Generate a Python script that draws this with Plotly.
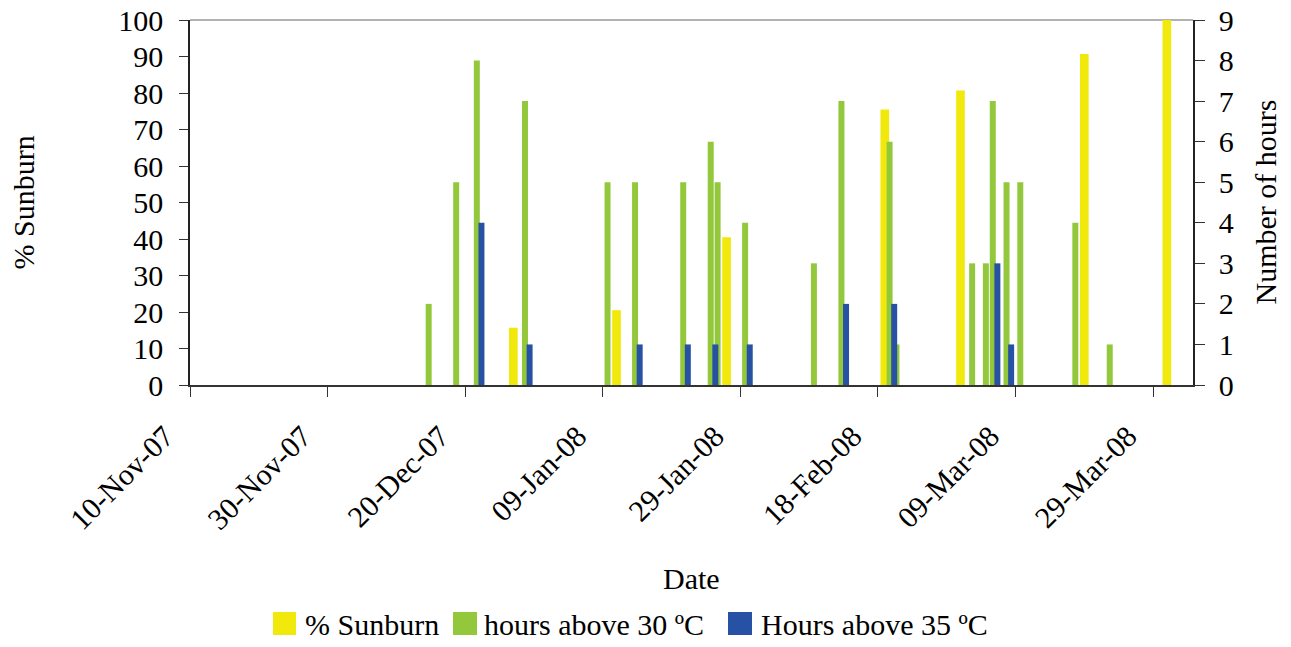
import plotly.graph_objects as go

# ---- data ----
sunburn_dates = ["2007-12-27", "2008-01-11", "2008-01-27", "2008-02-19",
                 "2008-03-01", "2008-03-19", "2008-03-31"]
sunburn_pct = [15.7, 20.5, 40.5, 75.5, 80.7, 90.7, 100.5]

h30_dates = ["2007-12-15", "2007-12-19", "2007-12-22", "2007-12-29",
             "2008-01-10", "2008-01-14", "2008-01-21", "2008-01-25",
             "2008-01-26", "2008-01-30", "2008-02-09", "2008-02-13",
             "2008-02-20", "2008-02-21", "2008-03-03", "2008-03-05",
             "2008-03-06", "2008-03-08", "2008-03-10", "2008-03-18",
             "2008-03-23"]
h30_hours = [2, 5, 8, 7, 5, 5, 5, 6, 5, 4, 3, 7, 6, 1, 3, 3, 7, 5, 5, 4, 1]

h35_dates = ["2007-12-22", "2007-12-29", "2008-01-14", "2008-01-21",
             "2008-01-25", "2008-01-30", "2008-02-13", "2008-02-20",
             "2008-03-06", "2008-03-08"]
h35_hours = [4, 1, 1, 1, 1, 1, 2, 2, 3, 1]

tick_dates = ["2007-11-10", "2007-11-30", "2007-12-20", "2008-01-09",
              "2008-01-29", "2008-02-18", "2008-03-09", "2008-03-29"]
tick_labels = ["10-Nov-07", "30-Nov-07", "20-Dec-07", "09-Jan-08",
               "29-Jan-08", "18-Feb-08", "09-Mar-08", "29-Mar-08"]

series_names = ["% Sunburn", "hours above 30 ºC", "Hours above 35 ºC"]

DAY = 86400000
FONT = "Liberation Serif"
FS = 30
YELLOW = "#F2E90C"
GREEN = "#93C83C"
BLUE = "#2651A4"
colors = [YELLOW, GREEN, BLUE]

# figure geometry (page body has an 8px margin)
W, H = 1283, 639
L, R, T, B = 182, 98, 12, 262
PW, PH = W - L - R, H - T - B


def px_x(page_x):
    return (page_x - 8 - L) / PW


def px_y(page_y):
    return (H - B - (page_y - 8)) / PH


fig = go.Figure()
fig.add_trace(go.Bar(x=sunburn_dates, y=sunburn_pct, name=series_names[0],
                     marker=dict(color=YELLOW, line=dict(width=0)),
                     width=[1.26 * DAY] * len(sunburn_dates),
                     offset=-0.63 * DAY, yaxis="y", showlegend=False,
                     cliponaxis=False))
fig.add_trace(go.Bar(x=h30_dates, y=h30_hours, name=series_names[1],
                     marker=dict(color=GREEN, line=dict(width=0)),
                     width=[0.87 * DAY] * len(h30_dates),
                     offset=-0.74 * DAY, yaxis="y2", showlegend=False))
fig.add_trace(go.Bar(x=h35_dates, y=h35_hours, name=series_names[2],
                     marker=dict(color=BLUE, line=dict(width=0)),
                     width=[0.87 * DAY] * len(h35_dates),
                     offset=-0.07 * DAY, yaxis="y2", showlegend=False))

# legend drawn as coloured squares + text (page pixel positions)
legend_sq = [(273, 296), (453, 477), (728, 752)]
legend_txt_x = [305, 484, 761]
leg_y0, leg_y1, leg_yc = 612, 635, 624

shapes = [dict(type="line", xref="paper", yref="paper", x0=0, x1=1, y0=1, y1=1,
               line=dict(color="#999", width=1.5), layer="below")]
annotations = [
    dict(text="% Sunburn", xref="paper", yref="paper", x=px_x(23), y=0.5,
         textangle=-90, showarrow=False, xanchor="center", yanchor="middle",
         font=dict(family=FONT, size=FS)),
    dict(text="Number of hours", xref="paper", yref="paper", x=px_x(1265), y=0.5,
         textangle=-90, showarrow=False, xanchor="center", yanchor="middle",
         font=dict(family=FONT, size=FS)),
    dict(text="Date", xref="paper", yref="paper", x=0.5, y=px_y(578),
         showarrow=False, xanchor="center", yanchor="middle",
         font=dict(family=FONT, size=FS)),
]
for (sx0, sx1), tx, name, col in zip(legend_sq, legend_txt_x, series_names, colors):
    shapes.append(dict(type="rect", xref="paper", yref="paper",
                       x0=px_x(sx0), x1=px_x(sx1), y0=px_y(leg_y1), y1=px_y(leg_y0),
                       fillcolor=col, line=dict(width=0)))
    annotations.append(dict(text=name, xref="paper", yref="paper",
                            x=px_x(tx), y=px_y(leg_yc), showarrow=False,
                            xanchor="left", yanchor="middle", xshift=-2,
                            font=dict(family=FONT, size=FS)))

fig.update_layout(
    width=W, height=H,
    barmode="overlay",
    paper_bgcolor="white", plot_bgcolor="white",
    margin=dict(l=L, r=R, t=T, b=B, autoexpand=False),
    font=dict(family=FONT, size=FS, color="black"),
    showlegend=False,
    xaxis=dict(type="date",
               range=["2007-11-10", "2008-04-03 19:12"],
               tickvals=tick_dates, ticktext=tick_labels,
               tickangle=-45, ticks="outside", ticklen=10, tickcolor="#333",
               showline=True, linecolor="#333", linewidth=1.5,
               showgrid=False, zeroline=False,
               tickfont=dict(family=FONT, size=FS),
               ticklabelstandoff=10, ticklabelshift=-25,
               ticklabeloverflow="allow"),
    yaxis=dict(range=[0, 100], tickvals=[0, 10, 20, 30, 40, 50, 60, 70, 80, 90, 100],
               ticks="outside", ticklen=9, tickcolor="#333",
               showline=True, linecolor="#222", linewidth=1.5,
               showgrid=False, zeroline=False,
               tickfont=dict(family=FONT, size=FS), ticklabelstandoff=10,
               ticklabeloverflow="allow"),
    yaxis2=dict(range=[0, 9], tickvals=list(range(10)),
                overlaying="y", side="right", anchor="x",
                ticks="outside", ticklen=10, tickcolor="#333",
                showline=True, linecolor="#222", linewidth=1.5,
                showgrid=False, zeroline=False,
                tickfont=dict(family=FONT, size=FS), ticklabelstandoff=8,
                ticklabeloverflow="allow"),
    shapes=shapes,
    annotations=annotations,
)

fig.write_html("out.html")
